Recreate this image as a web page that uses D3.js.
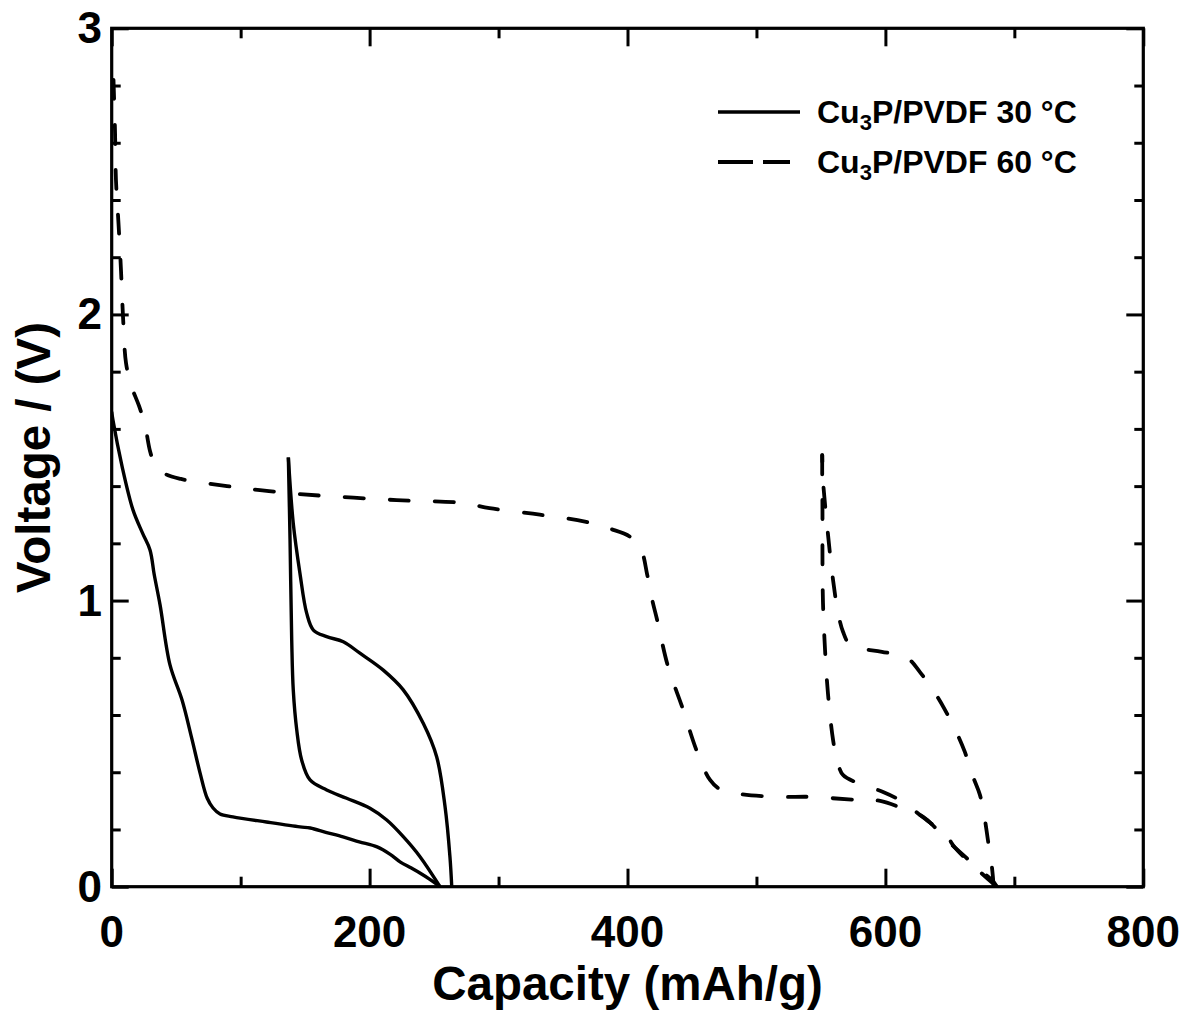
<!DOCTYPE html>
<html>
<head>
<meta charset="utf-8">
<script src="https://cdn.jsdelivr.net/npm/d3@7"></script>
<style>
  html, body { margin: 0; padding: 0; background: #fff; }
  svg { display: block; }
  text { font-family: "Liberation Sans", Arial, Helvetica, sans-serif; font-weight: bold; fill: #000; }
</style>
</head>
<body>
<svg id="chart" width="1187" height="1014"></svg>
<script>
// ---------------- DATA ----------------
const xTicks = [0, 200, 400, 600, 800];
const yTicks = [0, 1, 2, 3];
const xTitle = "Capacity (mAh/g)";
const yTitle = "Voltage / (V)";

// Cu3P/PVDF 30 °C (solid)
const cap30Discharge1 = [0, 1.0, 8, 16.5, 24, 29.7, 33, 37.5, 45.2, 54.5, 62, 68.5, 74, 78.6, 84, 94, 120, 146, 154, 166, 179.4, 192, 205.8, 216, 223.6, 232, 239, 247, 254.6];
const volt30Discharge1 = [1.66, 1.63, 1.47, 1.317, 1.235, 1.177, 1.09, 0.985, 0.775, 0.653, 0.52, 0.398, 0.31, 0.275, 0.254, 0.244, 0.226, 0.209, 0.205, 0.19, 0.174, 0.157, 0.139, 0.113, 0.087, 0.066, 0.048, 0.025, 0.0];

const cap30Charge1 = [263.7, 262.3, 258.5, 252, 241.6, 226.1, 210.6, 192.5, 179.6, 166.7, 156.4, 151.2, 146, 140.8, 137];
const volt30Charge1 = [0.0, 0.105, 0.28, 0.454, 0.571, 0.688, 0.757, 0.816, 0.856, 0.874, 0.897, 0.956, 1.095, 1.27, 1.5];

const cap30Discharge2 = [137, 138.3, 139.6, 140.8, 143.5, 147.3, 153.8, 166.7, 182.2, 200.3, 213.3, 226.1, 239.1, 254.6];
const volt30Discharge2 = [1.5, 1.212, 0.862, 0.688, 0.548, 0.443, 0.373, 0.338, 0.309, 0.274, 0.233, 0.175, 0.105, 0.0];

// Cu3P/PVDF 60 °C (dashed)
const cap60Discharge1 = [1.4, 2.6, 3.3, 5.3, 7.2, 8.8, 11.1, 15, 21.2, 25.8, 29.7, 33.6, 41.3, 53.7, 89.4, 115, 146, 221, 272, 293, 332, 367, 386.5, 402, 410.6, 415.3, 419.2, 423, 431.5, 442.4, 454, 464, 471.7, 487, 518, 542, 578, 596, 612, 629, 640, 650, 662, 673.3, 682.6, 686.5];
const volt60Discharge1 = [2.82, 2.635, 2.47, 2.316, 2.155, 1.99, 1.83, 1.753, 1.68, 1.614, 1.523, 1.474, 1.443, 1.425, 1.4, 1.386, 1.372, 1.351, 1.341, 1.323, 1.30, 1.276, 1.251, 1.223, 1.177, 1.09, 1.002, 0.932, 0.768, 0.628, 0.471, 0.373, 0.341, 0.324, 0.314, 0.314, 0.303, 0.30, 0.276, 0.245, 0.20, 0.153, 0.104, 0.058, 0.023, 0.0];

const cap60Charge1 = [684, 682.6, 679.5, 677.2, 673.3, 668, 661.6, 655.4, 646.2, 638.4, 626.8, 616.7, 597.3, 581.8, 572.5, 567.2, 563.3, 559.4, 555.5, 551.6, 551];
const volt60Charge1 = [0.0, 0.069, 0.163, 0.233, 0.321, 0.384, 0.471, 0.537, 0.618, 0.677, 0.75, 0.80, 0.821, 0.832, 0.845, 0.89, 0.957, 1.072, 1.23, 1.422, 1.508];

const cap60Discharge2 = [551, 551, 551.2, 551.2, 551.6, 553.2, 555.5, 559.4, 562.5, 567.2, 578.8, 598.2, 613.7, 628.4, 647.8, 654, 673.3, 686.5];
const volt60Discharge2 = [1.508, 1.421, 1.317, 1.142, 0.992, 0.827, 0.673, 0.513, 0.443, 0.39, 0.362, 0.331, 0.296, 0.245, 0.175, 0.136, 0.052, 0.0];

const legendLabels = [
  { main: "Cu", sub: "3", rest: "P/PVDF 30 °C", dashed: false },
  { main: "Cu", sub: "3", rest: "P/PVDF 60 °C", dashed: true }
];

// ---------------- DRAW ----------------
const svg = d3.select("#chart");
const L = 111.7, R = 1143.3, T = 28.3, B = 886.7;
const x = d3.scaleLinear().domain([0, 800]).range([L, R]);
const y = d3.scaleLinear().domain([0, 3]).range([B, T]);

svg.append("defs").append("clipPath").attr("id", "clip")
  .append("rect").attr("x", L).attr("y", T).attr("width", R - L).attr("height", B - T);

const zip = (a, b) => a.map((v, i) => [v, b[i]]);
const line = d3.line().x(d => x(d[0])).y(d => y(d[1])).curve(d3.curveCatmullRom.alpha(0.5));

const series = [
  { pts: zip(cap30Discharge1, volt30Discharge1), dashed: false },
  { pts: zip(cap30Charge1, volt30Charge1), dashed: false },
  { pts: zip(cap30Discharge2, volt30Discharge2), dashed: false },
  { pts: zip(cap60Discharge1, volt60Discharge1), dashed: true },
  { pts: zip(cap60Charge1, volt60Charge1), dashed: true },
  { pts: zip(cap60Discharge2, volt60Discharge2), dashed: true }
];

const g = svg.append("g").attr("clip-path", "url(#clip)");
series.forEach(s => {
  g.append("path")
    .attr("d", line(s.pts))
    .attr("fill", "none")
    .attr("stroke", "#000")
    .attr("stroke-width", s.dashed ? 3.8 : 3.4)
    .attr("stroke-linejoin", "round")
    .attr("stroke-linecap", s.dashed ? "round" : "butt")
    .attr("stroke-dasharray", s.dashed ? "19,26" : null);
});

// axes with inward ticks
const xMinor = d3.range(100, 800, 200);
const yMinor = d3.range(0, 3.001, 0.2).filter(v => Math.abs(v - Math.round(v)) > 1e-6);

function addAxis(axisGen, transform) {
  const a = svg.append("g").attr("transform", transform).call(axisGen);
  a.select(".domain").remove();
  a.selectAll("line").attr("stroke", "#000").attr("stroke-width", 3);
  a.selectAll("text").remove();
  return a;
}
addAxis(d3.axisBottom(x).tickValues(xTicks).tickSize(-18), `translate(0,${B})`);
addAxis(d3.axisBottom(x).tickValues(xMinor).tickSize(-10), `translate(0,${B})`);
addAxis(d3.axisTop(x).tickValues(xTicks).tickSize(-18), `translate(0,${T})`);
addAxis(d3.axisTop(x).tickValues(xMinor).tickSize(-10), `translate(0,${T})`);
addAxis(d3.axisLeft(y).tickValues(yTicks).tickSize(-17), `translate(${L},0)`);
addAxis(d3.axisLeft(y).tickValues(yMinor).tickSize(-9), `translate(${L},0)`);
addAxis(d3.axisRight(y).tickValues(yTicks).tickSize(-17), `translate(${R},0)`);
addAxis(d3.axisRight(y).tickValues(yMinor).tickSize(-9), `translate(${R},0)`);

// frame
svg.append("rect").attr("x", L).attr("y", T).attr("width", R - L).attr("height", B - T)
  .attr("fill", "none").attr("stroke", "#000").attr("stroke-width", 3.2);

// tick labels
svg.append("g").selectAll("text").data(xTicks).join("text")
  .attr("x", d => x(d)).attr("y", 947)
  .attr("text-anchor", "middle").attr("font-size", 44)
  .text(d => d);
svg.append("g").selectAll("text").data(yTicks).join("text")
  .attr("x", 102).attr("y", d => y(d) + 15)
  .attr("text-anchor", "end").attr("font-size", 44)
  .text(d => d);

// axis titles
svg.append("text").attr("x", (L + R) / 2).attr("y", 1000)
  .attr("text-anchor", "middle").attr("font-size", 47.5).text(xTitle);
svg.append("text").attr("transform", `translate(50,${(T + B) / 2}) rotate(-90)`)
  .attr("text-anchor", "middle").attr("font-size", 47.5).text(yTitle);

// legend
const legY = [112, 162];
legendLabels.forEach((lg, i) => {
  svg.append("line").attr("x1", 718).attr("x2", lg.dashed ? 790 : 800)
    .attr("y1", legY[i]).attr("y2", legY[i])
    .attr("stroke", "#000").attr("stroke-width", lg.dashed ? 3.8 : 3.4)
    .attr("stroke-dasharray", lg.dashed ? "35,10" : null);
  const t = svg.append("text").attr("x", 817).attr("y", legY[i] + 11).attr("font-size", 32);
  t.append("tspan").text(lg.main);
  t.append("tspan").attr("font-size", 22).attr("dy", 7).text(lg.sub);
  t.append("tspan").attr("dy", -7).text(lg.rest);
});
</script>
</body>
</html>
